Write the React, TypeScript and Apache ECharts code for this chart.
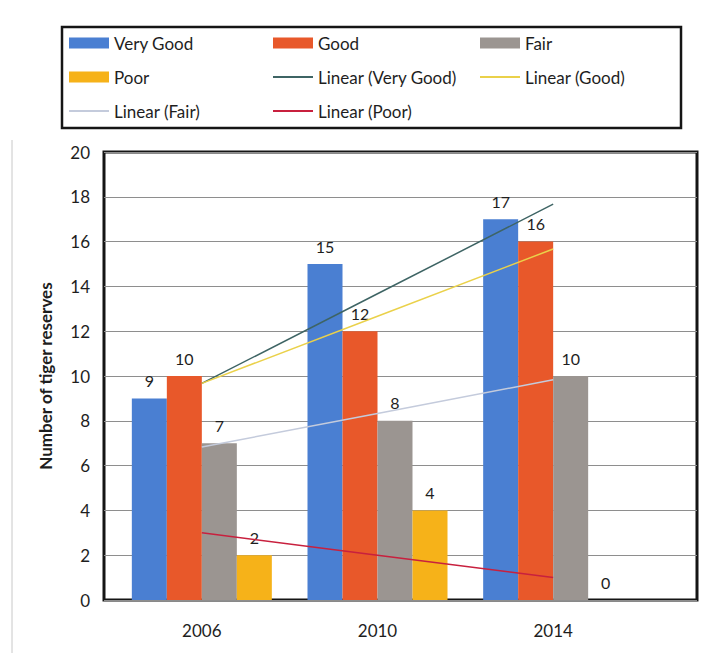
import React, { useEffect, useRef } from "react";
import * as echarts from "echarts";

const years = ["2006", "2010", "2014"];
const veryGood = [9, 15, 17];
const good = [10, 12, 16];
const fair = [7, 8, 10];
const poor = [2, 4, 0];
// trend lines (Excel linear trendlines)
const trendVeryGood = [9.67, 13.67, 17.67];
const trendGood = [9.67, 12.67, 15.67];
const trendFair = [6.83, 8.33, 9.83];
const trendPoor = [3, 2, 1];

const FONT = "Lato, 'Open Sans', sans-serif";
const TXT = "#1e1e1e";

export default function App() {
  const ref = useRef<HTMLDivElement>(null);
  useEffect(() => {
    if (!ref.current) return;
    const chart = echarts.init(ref.current, undefined, { renderer: "svg" });
    const barLabel = {
      show: true,
      position: "top",
      distance: 10,
      fontSize: 16,
      color: TXT,
      fontFamily: FONT,
    };
    const bar = (name: string, data: number[], color: string) => ({
      name,
      type: "bar",
      xAxisIndex: 1,
      yAxisIndex: 1,
      data,
      barWidth: 35,
      barGap: "0%",
      itemStyle: { color },
      label: barLabel,
      z: 2,
    });
    const trend = (name: string, data: number[], color: string) => ({
      name,
      type: "line",
      xAxisIndex: 1,
      yAxisIndex: 1,
      data,
      symbol: "none",
      lineStyle: { color, width: 1.5 },
      itemStyle: { color: "transparent", borderColor: "transparent" },
      z: 5,
    });
    const lineItem = (name: string) => ({
      name,
      itemStyle: { opacity: 0, color: "transparent", borderColor: "transparent" },
    });
    const legendBase = {
      orient: "vertical",
      itemWidth: 40,
      itemHeight: 11,
      itemGap: 14,
      textStyle: { fontSize: 17, color: TXT, fontFamily: FONT, lineHeight: 20 },
      selectedMode: false,
      padding: 0,
    };
    chart.setOption({
      animation: false,
      textStyle: { fontFamily: FONT },
      legend: [
        {
          ...legendBase,
          left: 68,
          top: 33,
          data: [
            { name: "Very Good", icon: "rect" },
            { name: "Poor", icon: "rect" },
            lineItem("Linear (Fair)"),
          ],
        },
        {
          ...legendBase,
          left: 272,
          top: 33,
          data: [
            { name: "Good", icon: "rect" },
            lineItem("Linear (Very Good)"),
            lineItem("Linear (Poor)"),
          ],
        },
        {
          ...legendBase,
          left: 479,
          top: 33,
          data: [{ name: "Fair", icon: "rect" }, lineItem("Linear (Good)")],
        },
      ],
      graphic: [
        {
          type: "rect",
          shape: { x: 62, y: 27, width: 619, height: 101 },
          style: { fill: "none", stroke: "#151515", lineWidth: 2.5 },
          silent: true,
        },
        {
          type: "line",
          shape: { x1: 12, y1: 140, x2: 12, y2: 653 },
          style: { stroke: "#c8c8c8", lineWidth: 1 },
          silent: true,
        },
      ],
      grid: [
        {
          left: 104,
          top: 152,
          width: 593,
          height: 448,
          show: true,
          borderColor: "#151515",
          borderWidth: 3,
        },
        { left: 114, top: 152, width: 527, height: 448 },
      ],
      xAxis: [
        { gridIndex: 0, type: "category", data: years, show: false },
        {
          gridIndex: 1,
          type: "category",
          data: years,
          axisLine: { show: false },
          axisTick: { show: false },
          axisLabel: { margin: 22, fontSize: 17, color: TXT, fontFamily: FONT },
        },
      ],
      yAxis: [
        {
          gridIndex: 0,
          type: "value",
          min: 0,
          max: 20,
          interval: 2,
          axisLine: { show: false },
          axisTick: { show: false },
          splitLine: { lineStyle: { color: "#8e8e8e", width: 1 } },
          axisLabel: { margin: 14, fontSize: 17, color: TXT, fontFamily: FONT },
          name: "Number of tiger reserves",
          nameLocation: "middle",
          nameGap: 50,
          nameTextStyle: {
            fontSize: 17,
            fontWeight: "bold",
            color: TXT,
            fontFamily: FONT,
          },
        },
        { gridIndex: 1, type: "value", min: 0, max: 20, interval: 2, show: false },
      ],
      series: [
        bar("Very Good", veryGood, "#4a7fd2"),
        bar("Good", good, "#e8582a"),
        bar("Fair", fair, "#9b9591"),
        bar("Poor", poor, "#f6b219"),
        trend("Linear (Very Good)", trendVeryGood, "#3e6464"),
        trend("Linear (Good)", trendGood, "#ead14a"),
        trend("Linear (Fair)", trendFair, "#c4cbdc"),
        trend("Linear (Poor)", trendPoor, "#c8203e"),
      ],
    });
    return () => chart.dispose();
  }, []);
  return (
    <div
      ref={ref}
      style={{ position: "fixed", left: 0, top: 0, width: 712, height: 653, background: "#fff" }}
    />
  );
}
